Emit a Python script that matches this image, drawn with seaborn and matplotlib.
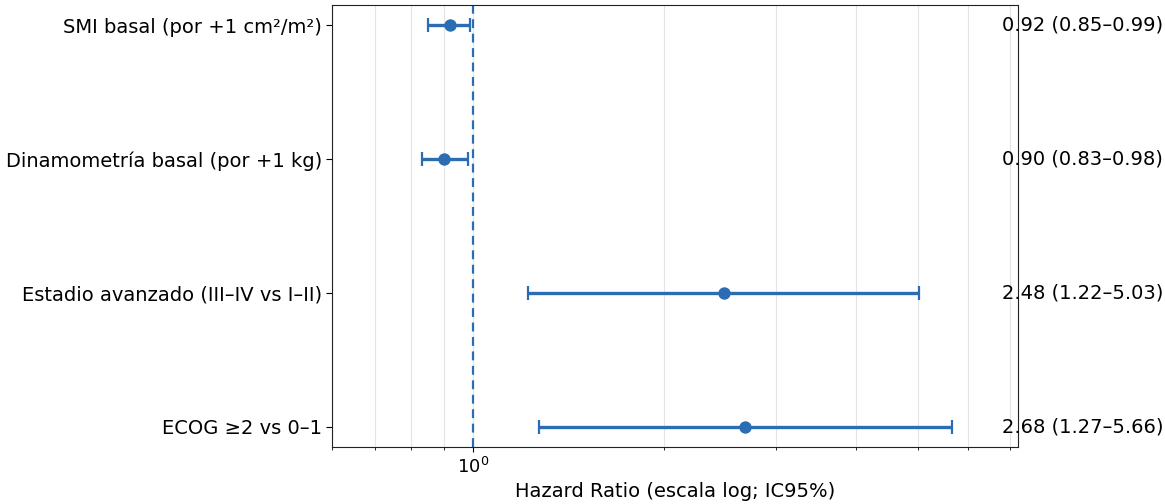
import matplotlib
matplotlib.use("Agg")
import matplotlib.pyplot as plt
import seaborn as sns
import pandas as pd
import numpy as np

labels = ["SMI basal (por +1 cm²/m²)", "Dinamometría basal (por +1 kg)",
          "Estadio avanzado (III–IV vs I–II)", "ECOG ≥2 vs 0–1"]
hr = [0.92, 0.90, 2.48, 2.68]
lo = [0.85, 0.83, 1.22, 1.27]
hi = [0.99, 0.98, 5.03, 5.66]

sns.set_style("ticks")
plt.rcParams['font.family'] = ['DejaVu Sans']
plt.rcParams.update({"text.color": "black", "axes.labelcolor": "black",
                     "xtick.color": "black", "ytick.color": "black"})

color = "#2a6db5"
df = pd.DataFrame({"label": labels, "hr": hr, "lo": lo, "hi": hi})
df["y"] = np.arange(len(df))

fig, ax = plt.subplots(figsize=(11.65, 5.04), dpi=100)
fig.subplots_adjust(left=0.285, right=0.874, top=0.990, bottom=0.113)

ax.set_xscale("log")
err = np.vstack([df["hr"] - df["lo"], df["hi"] - df["hr"]])
ax.errorbar(df["hr"], df["y"], xerr=err, fmt="none", ecolor=color,
            elinewidth=2.4, capsize=5, capthick=1.6, zorder=3)
sns.scatterplot(data=df, x="hr", y="y", ax=ax, color=color, s=80,
                edgecolor=color, linewidth=0, zorder=4, legend=False)
ax.axvline(1.0, color=color, linestyle="--", linewidth=1.6, dashes=(4, 2.5), zorder=2)

ax.set_xlim(0.6, 7.2)
ax.set_ylim(3.15, -0.15)
ax.set_yticks(df["y"])
ax.set_yticklabels(df["label"], fontsize=14)
ax.tick_params(axis="x", labelsize=13)
ax.tick_params(axis="y", length=4, pad=3)
ax.set_ylabel("")
ax.set_xlabel("Hazard Ratio (escala log; IC95%)", fontsize=14)
ax.grid(True, which="both", axis="x", color="#e4e4e4", linewidth=0.8, zorder=0)
ax.set_axisbelow(True)
for s in ax.spines.values():
    s.set_visible(True)
    s.set_color("#222222")

xt = max(hi) * 1.2
for _, r in df.iterrows():
    ax.text(xt, r["y"], f"{r['hr']:.2f} ({r['lo']:.2f}–{r['hi']:.2f})",
            ha="left", va="center", fontsize=14, clip_on=False)

fig.savefig("out.png", dpi=100)
